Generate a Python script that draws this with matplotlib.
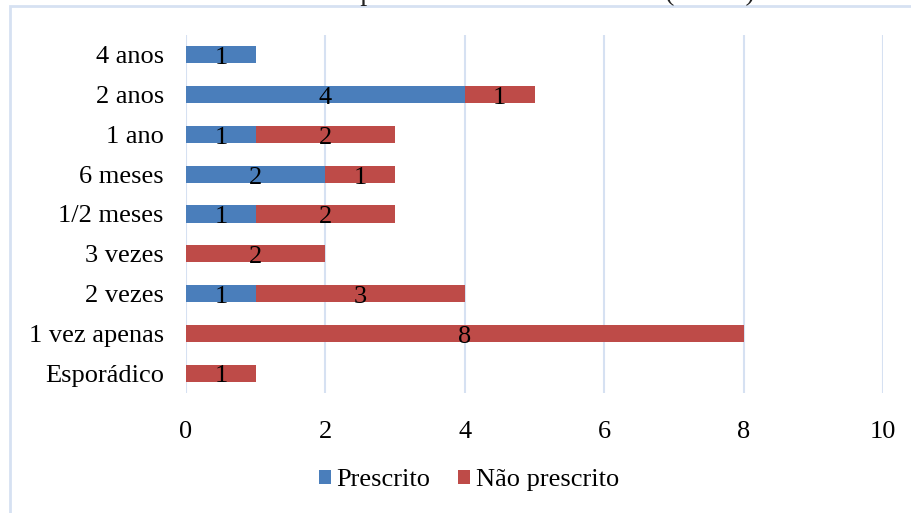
import matplotlib
matplotlib.use("Agg")
from matplotlib import pyplot as plt
from matplotlib.patches import Rectangle
import numpy as np

categorias = ["Esporádico", "1 vez apenas", "2 vezes", "3 vezes", "1/2 meses",
              "6 meses", "1 ano", "2 anos", "4 anos"]
prescrito = [0, 0, 1, 0, 1, 2, 1, 4, 1]
nao_prescrito = [1, 8, 3, 2, 2, 1, 2, 1, 0]
xticks = [0, 2, 4, 6, 8, 10]
titulo = "Gráfico 4 - Tempo de uso do medicamento (n = 30)."

plt.rcParams['font.family'] = ['Liberation Serif', 'DejaVu Serif']

W, H = 912, 513
fig = plt.figure(figsize=(W / 100, H / 100), dpi=100)
ax = fig.add_axes([186 / W, 1 - 393 / H, (883 - 186) / W, (393 - 35) / H])

# moldura do gráfico (sai pela direita e por baixo)
fig.patches.append(Rectangle((10 / W, -0.2), 1.2, 1.2 - 6 / H, transform=fig.transFigure,
                             fill=False, edgecolor='#D6E1F2', linewidth=2, zorder=0))

azul = '#4A7EBB'
vermelho = '#BE4B48'
y = np.arange(len(categorias))
b1 = ax.barh(y, prescrito, height=0.43, color=azul, label='Prescrito', zorder=3)
b2 = ax.barh(y, nao_prescrito, left=prescrito, height=0.43, color=vermelho,
             label='Não prescrito', zorder=3)

for barras, vals in ((b1, prescrito), (b2, nao_prescrito)):
    for r, v in zip(barras, vals):
        if v > 0:
            ax.text(r.get_x() + r.get_width() / 2, r.get_y() - 0.02,
                    str(v), ha='center', va='baseline', fontsize=19, color='black', zorder=4)

ax.set_xlim(0, 10)
ax.set_ylim(-0.5, len(categorias) - 0.5)
ax.set_xticks(xticks)
ax.set_yticks(y)
ax.set_yticklabels(categorias)
ax.tick_params(axis='y', length=0, pad=16, labelsize=19)
ax.tick_params(axis='x', length=0, pad=20, labelsize=19)
ax.grid(axis='x', color='#D6E1F2', linewidth=1.5, zorder=0)
for s in ax.spines.values():
    s.set_visible(False)

# título cortado no topo, como no original
fig.text(472 / W, 1 - 0.5 / H, titulo, ha='center', va='baseline', fontsize=20, color='#222222')

ax.legend(loc='center', bbox_to_anchor=(469 / W, 1 - 480 / H), bbox_transform=fig.transFigure,
          ncol=2, frameon=False, fontsize=19, handlelength=0.45, handleheight=0.45,
          handletextpad=0.22, columnspacing=1.06)

fig.savefig('out.png', dpi=100)
